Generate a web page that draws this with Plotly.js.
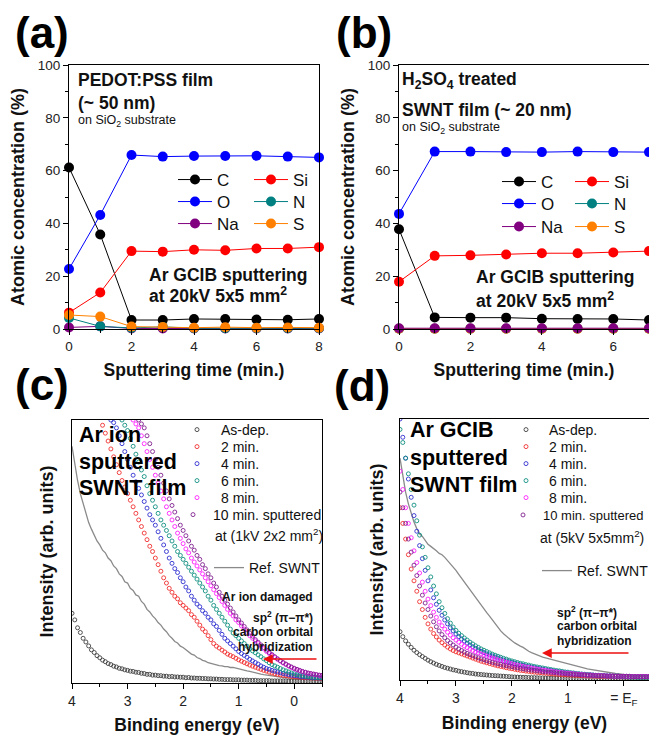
<!DOCTYPE html>
<html><head><meta charset="utf-8">
<script src="https://cdn.plot.ly/plotly-3.0.1.min.js"></script>
<style>html,body{margin:0;padding:0;background:#fff;} #chart{width:649px;height:738px;}</style>
</head><body><div id="chart"></div>
<script>
// ---------- DATA ----------
// (a) PEDOT:PSS film, atomic concentration (%) vs sputtering time (min)
const timeA = [0,1,2,3,4,5,6,7,8];
const aC  = [61.2,35.8,3.4,3.4,3.8,3.8,3.6,3.5,3.8];
const aO  = [22.7,43.2,65.9,65.3,65.5,65.5,65.6,65.3,65.0];
const aSi = [6.2,13.8,29.5,29.3,30.0,29.8,30.5,30.5,31.0];
const aN  = [4.2,1.0,0.4,0.8,0.3,0.3,0.3,0.3,0.3];
const aNa = [0.6,1.0,0.2,0.2,0.2,0.2,0.2,0.2,0.2];
const aS  = [5.3,4.7,0.9,0.8,0.5,0.7,0.5,0.6,0.5];
// (b) H2SO4 treated SWNT film
const timeB = [0,1,2,3,4,5,6,7];
const bC  = [37.8,4.4,4.3,4.3,3.9,3.8,3.8,3.4];
const bO  = [43.6,67.2,67.2,67.0,67.0,67.2,67.0,67.0];
const bSi = [17.9,27.7,27.9,28.2,28.7,28.7,29.0,29.5];
const bN  = [0.1,0.1,0.1,0.1,0.1,0.1,0.1,0.1];
const bNa = [0.3,0.3,0.3,0.3,0.3,0.3,0.3,0.3];
const bS  = [0.1,0.1,0.1,0.1,0.1,0.1,0.1,0.1];
const elemNames = ['C','Si','O','N','Na','S'];

// (c),(d) valence band spectra, binding energy grid (eV)
const energy = [4,3.95,3.9,3.85,3.8,3.75,3.7,3.65,3.6,3.55,
 3.5,3.45,3.4,3.35,3.3,3.25,3.2,3.15,3.1,3.05,
 3,2.95,2.9,2.85,2.8,2.75,2.7,2.65,2.6,2.55,
 2.5,2.45,2.4,2.35,2.3,2.25,2.2,2.15,2.1,2.05,
 2,1.95,1.9,1.85,1.8,1.75,1.7,1.65,1.6,1.55,
 1.5,1.45,1.4,1.35,1.3,1.25,1.2,1.15,1.1,1.05,
 1,0.95,0.9,0.85,0.8,0.75,0.7,0.65,0.6,0.55,
 0.5,0.45,0.4,0.35,0.3,0.25,0.2,0.15,0.1,0.05,
 0,-0.05,-0.1,-0.15,-0.2,-0.25,-0.3,-0.35,-0.4,-0.45,
 -0.5];
const N10 = [null,null,null,null,null,null,null,null,null,null];
// (c) Ar ion sputtered
const cAsDep = [26.5,24,21,19.2,17,15.6,14.1,12.6,11.6,10.4,
 9.6,8.7,8.1,7.4,7.0,6.4,6.1,5.6,5.4,5.0,
 4.8,4.5,4.4,4.1,4.0,3.7,3.6,3.3,3.3,3.0,
 3.0,2.8,2.8,2.6,2.6,2.4,2.5,2.3,2.3,2.2,
 2.2,2.0,2.1,1.9,1.9,1.8,1.8,1.7,1.7,1.6,
 1.6,1.5,1.5,1.4,1.4,1.3,1.3,1.3,1.2,1.2,
 1.2,1.1,1.1,1.1,1.0,1.0,1.0,0.9,0.9,0.9,
 0.9,0.9,0.8,0.8,0.8,0.8,0.8,0.8,0.7,0.7,
 0.7,0.7,0.7,0.7,0.7,0.7,0.7,0.7,0.7,0.7,
 0.7];
const c2min = [...N10,
 101,98,95,92,89,86,83,80,77,74.5,
 72,69.5,67,64.5,62,59.5,57,54.5,52,50,
 47.5,45,42.5,40,38,36,34.5,33,32,30.5,
 29.5,28.5,27.5,26,25,23.5,22,20.5,19.5,18,
 16.5,15,14,13.3,12.5,11.8,11,10.5,10,9.4,
 8.8,8.3,7.8,7.3,6.8,6.4,6.0,5.6,5.2,4.8,
 4.5,4.1,3.8,3.5,3.3,3.1,2.9,2.8,2.6,2.5,
 2.4,2.3,2.2,2.1,2.0,2.0,1.9,1.9,1.8,1.8,
 1.7];
const c4min = [...N10,
 null,null,null,null,100,99,97,94,91,88,
 85,82,79,76.5,74,71.5,69,66.5,64,62,
 60,57.5,55,52.5,50,47.5,45.5,43.5,42,40,
 38.5,36.5,35,33,31.5,30,29,27.5,26.5,25,
 24,22.5,21.5,20,18.5,17,16,15,14,13,
 12,11.2,10.5,9.8,9.0,8.4,7.8,7.2,6.5,6.0,
 5.5,5.2,4.8,4.5,4.2,3.9,3.6,3.4,3.2,3.0,
 2.8,2.7,2.5,2.4,2.3,2.2,2.1,2.0,2.0,1.9,
 1.9];
const c6min = [...N10,
 null,null,null,null,null,null,null,null,100,98,
 96,93,90,87,84,81,78.5,75,72,69.5,
 67,64.5,62,60,58,56,54,52,50,48.5,
 47,45.5,44,42.5,41,39.5,38,36.5,35,33,
 31.5,29.5,28,26.5,25,23.5,22,20.5,19,18,
 17,16,15,14,13,12.2,11.5,10.7,10,9.2,
 8.5,7.7,7,6.5,6,5.5,5,4.6,4.2,3.8,
 3.5,3.2,3.0,2.8,2.6,2.4,2.3,2.2,2.1,2.0,
 2.0];
const c8min = [...N10,...N10,
 null,null,100,98.5,97,94,91,88,85,82,
 79,76,73,70,67,64.5,62,59.5,57,55,
 53,51,49.5,47.5,46,44.5,43,41.5,40,38.5,
 37,35.5,34,32.5,31,29.5,28,26.5,25.5,24,
 23,21.7,20.5,19.2,18,17,16,15,14,13,
 12,11.2,10.5,9.7,9,8.3,7.6,7,6.4,5.9,
 5.4,5.0,4.6,4.3,4.0,3.7,3.5,3.3,3.1,2.9,
 2.8];
const c10min = [...N10,...N10,
 null,null,null,null,100,98.5,97,94,91,88,
 85,82,79,76,73,70,67.5,65,62.5,60,
 58,56,54,52,50.5,48.5,47,45,43.5,41.5,
 40,38,36.5,34.5,33,31.5,30,28.5,27,25.5,
 24,22.8,21.5,20.2,19,17.8,16.5,15.5,14.5,13.5,
 12.5,11.6,10.8,10,9.2,8.5,7.8,7.2,6.6,6.1,
 5.6,5.2,4.8,4.4,4.1,3.8,3.6,3.4,3.2,3.0,
 2.9];
const cRef = [90,83,77,72,68,64,61,58.5,56,54,
 52.5,50.5,49.5,47.5,46.5,44.5,43.5,41.5,40.5,38.5,
 38,36,35.2,33.5,33,31,30,28,27,25.5,
 24.5,23,22,20.5,19.5,18,17,15.8,15.2,14,
 13.5,12.6,12,11,10.6,9.7,9.3,8.6,8.3,7.7,
 7.5,7.1,7,6.6,6.5,6.2,6.2,5.9,5.9,5.6,
 5.4,5.1,4.9,4.6,4.4,4.1,3.9,3.6,3.4,3.2,
 3.0,2.8,2.6,2.5,2.3,2.2,2.1,2.0,1.9,1.8,
 1.7,1.6,1.5,1.5,1.4,1.4,1.3,1.3,1.3,1.2,
 1.2];
// (d) Ar GCIB sputtered
const dAsDep = [18.5,16.6,15,13.7,12.5,11.4,10.5,9.7,9,8.3,
 7.6,7.0,6.5,6.0,5.6,5.2,4.8,4.5,4.2,3.9,
 3.7,3.4,3.2,3.0,2.8,2.6,2.5,2.3,2.2,2.1,
 2.0,1.9,1.8,1.7,1.65,1.6,1.5,1.45,1.35,1.3,
 1.2,1.15,1.1,1.05,1.0,1.0,0.95,0.9,0.9,0.85,
 0.8,0.8,0.75,0.75,0.7,0.7,0.7,0.65,0.65,0.6,
 0.6,0.6,0.6,0.55,0.55,0.55,0.55,0.5,0.5,0.5,
 0.5,0.5,0.5,0.5,0.5,0.5,0.5,0.5,0.5,0.5,
 0.5,0.5,0.5,0.5,0.5,0.5,0.5,0.5,0.5,0.5,
 0.5];
const d2min = [66,60,54,48,42.5,38,34,30,27,24,
 21.5,19.5,17.8,16.5,15.3,14.3,13.4,12.6,11.9,11.3,
 10.8,10.4,10.0,9.6,9.2,8.8,8.4,8.0,7.6,7.2,
 6.9,6.6,6.3,6.0,5.7,5.4,5.2,5.0,4.7,4.5,
 4.3,4.1,3.9,3.7,3.6,3.4,3.3,3.1,3.0,2.9,
 2.8,2.7,2.6,2.5,2.4,2.3,2.2,2.1,2.0,2.0,
 1.9,1.85,1.8,1.75,1.7,1.65,1.6,1.55,1.5,1.5,
 1.45,1.4,1.4,1.35,1.3,1.3,1.3,1.25,1.25,1.2,
 1.2,1.2,1.2,1.2,1.2,1.2,1.2,1.2,1.2,1.2,
 1.1];
const d4min = [100,93,85,77,70,63,57,51.5,46.5,42,
 38,34.5,31.5,29,26.7,24.8,23,21.5,20,18.8,
 17.6,16.6,15.7,14.9,14.1,13.4,12.7,12.1,11.5,11.0,
 10.5,10.0,9.6,9.2,8.8,8.4,8.0,7.6,7.3,7.0,
 6.7,6.4,6.1,5.8,5.6,5.3,5.1,4.9,4.7,4.5,
 4.3,4.1,3.9,3.7,3.6,3.4,3.3,3.1,3.0,2.8,
 2.7,2.6,2.5,2.4,2.3,2.2,2.1,2.0,2.0,1.9,
 1.8,1.8,1.7,1.7,1.6,1.6,1.5,1.5,1.5,1.4,
 1.4,1.4,1.4,1.3,1.3,1.3,1.3,1.3,1.3,1.3,
 1.3];
const d6min = [96,91,85,79,73,67,61,55.5,51,47,
 43,39.5,36,33,30,27.7,25.5,23.5,21.8,20.3,
 19,17.9,17,16.1,15.3,14.5,13.8,13.1,12.5,11.9,
 11.4,10.9,10.4,9.9,9.5,9.1,8.7,8.3,8.0,7.6,
 7.3,7.0,6.7,6.4,6.2,5.9,5.7,5.4,5.2,5.0,
 4.8,4.6,4.4,4.2,4.0,3.8,3.6,3.5,3.3,3.1,
 3.0,2.8,2.7,2.5,2.4,2.3,2.2,2.1,2.0,1.9,
 1.8,1.7,1.6,1.6,1.5,1.5,1.4,1.4,1.3,1.3,
 1.2,1.2,1.1,1.1,1.1,1.0,1.0,1.0,1.0,1.0,
 1.0];
const d8min = [80,73,66,60,54.5,49.5,45,41,37.5,34,
 31,28.5,26,24,22.2,20.8,19.5,18.3,17.2,16.2,
 15.3,14.5,13.7,13,12.4,11.8,11.3,10.8,10.4,10.0,
 9.6,9.2,8.8,8.4,8.1,7.7,7.4,7.1,6.8,6.5,
 6.2,5.9,5.7,5.4,5.2,5.0,4.8,4.6,4.4,4.2,
 4.0,3.8,3.7,3.5,3.4,3.2,3.1,2.9,2.8,2.7,
 2.6,2.5,2.4,2.3,2.2,2.1,2.0,1.9,1.9,1.8,
 1.7,1.7,1.6,1.6,1.5,1.5,1.5,1.4,1.4,1.4,
 1.4,1.4,1.3,1.3,1.3,1.3,1.3,1.3,1.3,1.3,
 1.3];
const d10min = [72,66,60,54,49,44,40,36,32.5,29.5,
 27,24.5,22.3,20.4,18.8,17.4,16.2,15.1,14.2,13.4,
 12.6,11.9,11.3,10.7,10.2,9.7,9.3,8.9,8.5,8.1,
 7.8,7.4,7.1,6.8,6.5,6.2,6.0,5.7,5.5,5.3,
 5.1,4.9,4.7,4.5,4.3,4.1,4.0,3.8,3.7,3.5,
 3.4,3.2,3.1,3.0,2.9,2.8,2.7,2.6,2.5,2.4,
 2.3,2.2,2.1,2.1,2.0,1.9,1.9,1.8,1.8,1.7,
 1.7,1.6,1.6,1.6,1.5,1.5,1.5,1.4,1.4,1.4,
 1.4,1.4,1.4,1.3,1.3,1.3,1.3,1.3,1.3,1.3,
 1.3];
const dRef = [85,78,72,67.5,64,60.5,58,56,55,53.5,
 52,51.2,50.5,49.5,48.5,48,47,45.8,44.5,43.3,
 42,40.5,39,37.5,36,34.5,33,31.5,30,28.5,
 27,25.8,24.5,23,21.5,20,18.8,17.7,16.7,15.8,
 15,14.2,13.5,13,12.5,11.7,11,10.5,10,9.6,
 9.2,8.8,8.5,8.2,7.9,7.6,7.3,7.0,6.7,6.5,
 6.2,5.9,5.6,5.4,5.1,4.8,4.6,4.3,4.1,3.9,
 3.7,3.5,3.3,3.1,3.0,2.8,2.7,2.5,2.4,2.2,
 2.1,2.0,1.9,1.8,1.7,1.7,1.6,1.6,1.5,1.5,
 1.5];
const specNames = ['As-dep.','2 min.','4 min.','6 min.','8 min.','10 min. sputtered'];
const refName = 'Ref. SWNT';
const xTicksAB = [0,2,4,6,8];
const yTicksAB = [0,20,40,60,80,100];
const eTicks = [4,3,2,1,0];
const eTickTextD = ['4','3','2','1','= E<sub>F</sub>'];

// ---------- LAYOUT HELPERS ----------
const W = 649, H = 738;
const FONT = 'Liberation Sans, Arial, Helvetica, sans-serif';
const px = v => v / W;
const py = v => 1 - v / H;
const elemColors = {C:'#000000', Si:'#ff0000', O:'#0000ff', N:'#008080', Na:'#800080', S:'#ff8000'};
const specColors = ['#404040','#f03030','#3030d0','#109080','#ff20ff','#802090'];

const legends = {};
let legendCount = 0;
function addLegend(symX, symY, size, textOff) {
  legendCount++;
  const id = legendCount === 1 ? 'legend' : 'legend' + legendCount;
  legends[id] = {
    x: px(symX - 20), y: py(symY), xanchor: 'left', yanchor: 'middle',
    bgcolor: 'rgba(0,0,0,0)', borderwidth: 0, orientation: 'v',
    itemwidth: Math.max(30, 30 + textOff - 20),
    font: {family: FONT, size: size, color: '#111'}
  };
  return id;
}

const traces = [];
function elemTrace(name, x, y, xa, ya, lx, ly, rank) {
  traces.push({
    type: 'scatter', mode: 'lines+markers', name: name, x: x, y: y,
    xaxis: xa, yaxis: ya, cliponaxis: false, legendrank: rank,
    line: {color: elemColors[name], width: 1},
    marker: {color: elemColors[name], size: 10, line: {width: 0}},
    legend: addLegend(lx, ly, 17, 24), showlegend: true
  });
}
// legend positions: two columns, three rows
const colA = [193, 269], rowA = [180, 202, 224];
const colB = [517, 590], rowB = [182, 204, 227];
const aData = {C: aC, Si: aSi, O: aO, N: aN, Na: aNa, S: aS};
const bData = {C: bC, Si: bSi, O: bO, N: bN, Na: bNa, S: bS};
const drawOrderA = ['C','O','Si','Na','N','S'];
const drawOrderB = ['C','O','Si','N','S','Na'];
drawOrderA.forEach(n => {
  const k = elemNames.indexOf(n);
  elemTrace(n, timeA, aData[n], 'x', 'y', colA[k % 2], rowA[Math.floor(k / 2)], k + 1);
});
drawOrderB.forEach(n => {
  const k = elemNames.indexOf(n);
  elemTrace(n, timeB, bData[n], 'x2', 'y2', colB[k % 2], rowB[Math.floor(k / 2)], k + 1);
});

function specPanel(xa, ya, series, ref, symX, rows, textOff, refSym, refY, lastFont) {
  traces.push({
    type: 'scatter', mode: 'lines', name: refName, x: energy, y: ref,
    xaxis: xa, yaxis: ya, line: {color: '#8a8a8a', width: 1.3},
    legend: addLegend(refSym, refY, 14, 20), showlegend: true
  });
  series.forEach((s, i) => {
    traces.push({
      type: 'scatter', mode: 'markers', name: specNames[i], x: energy, y: s,
      xaxis: xa, yaxis: ya,
      marker: {symbol: 'circle-open', size: 4, color: specColors[i], line: {width: 0.9, color: specColors[i]}},
      legend: addLegend(symX, rows[i], i === 5 ? lastFont : 14, i === 5 ? textOff - 8 : textOff), showlegend: true
    });
  });
}
specPanel('x3', 'y3', [cAsDep, c2min, c4min, c6min, c8min, c10min], cRef,
  193, [430, 447, 464, 481, 498, 515], 28, 229, 568, 14);
specPanel('x4', 'y4', [dAsDep, d2min, d4min, d6min, d8min, d10min], dRef,
  523, [430, 447, 464, 481, 498, 515], 26, 557, 571, 13);

// ---------- AXES ----------
const baseAxis = {
  showline: true, linecolor: '#000', linewidth: 1, mirror: true,
  ticks: 'outside', ticklen: 5, tickwidth: 1, tickcolor: '#000',
  showgrid: false, zeroline: false,
  tickfont: {family: FONT, size: 13.5, color: '#222'}
};
const titleFont = {family: FONT, size: 17.5, color: '#111'};
const minorAB = {ticks: 'outside', ticklen: 3, tickcolor: '#000', showgrid: false};
const layout = {
  width: W, height: H, margin: {l: 0, r: 0, t: 0, b: 0, autoexpand: false},
  paper_bgcolor: '#fff', plot_bgcolor: '#fff',
  font: {family: FONT, color: '#111'},
  xaxis: Object.assign({}, baseAxis, {
    domain: [px(69), px(319)], range: [0, 8], anchor: 'y', tickvals: xTicksAB,
    minor: Object.assign({dtick: 1, tick0: 0}, minorAB),
    title: {text: '<b>Sputtering time (min.)</b>', font: titleFont, standoff: 10}
  }),
  yaxis: Object.assign({}, baseAxis, {
    domain: [py(329), py(65)], range: [0, 100], anchor: 'x', tickvals: yTicksAB,
    minor: Object.assign({dtick: 10, tick0: 0}, minorAB),
    title: {text: '<b>Atomic concentration (%)</b>', font: Object.assign({}, titleFont, {size: 18}), standoff: 8}
  }),
  xaxis2: Object.assign({}, baseAxis, {
    domain: [px(399), 1], range: [0, 7], anchor: 'y2', tickvals: xTicksAB,
    minor: Object.assign({dtick: 1, tick0: 0}, minorAB),
    title: {text: '<b>Sputtering time (min.)</b>', font: titleFont, standoff: 10}
  }),
  yaxis2: Object.assign({}, baseAxis, {
    domain: [py(329), py(65)], range: [0, 100], anchor: 'x2', tickvals: yTicksAB,
    minor: Object.assign({dtick: 10, tick0: 0}, minorAB),
    title: {text: '<b>Atomic concentration (%)</b>', font: Object.assign({}, titleFont, {size: 18}), standoff: 8}
  }),
  xaxis3: Object.assign({}, baseAxis, {
    domain: [px(72), px(322)], range: [4, -0.5], anchor: 'y3', tickvals: eTicks,
    tickfont: {family: FONT, size: 14, color: '#222'},
    minor: Object.assign({dtick: 0.5, tick0: 0}, minorAB),
    title: {text: '<b>Binding energy (eV)</b>', font: titleFont, standoff: 10}
  }),
  yaxis3: Object.assign({}, baseAxis, {
    domain: [py(683), py(420)], range: [0, 100], anchor: 'x3', ticks: '', showticklabels: false,
    title: {text: '<b>Intensity (arb. units)</b>', font: Object.assign({}, titleFont, {size: 18}), standoff: 12}
  }),
  xaxis4: Object.assign({}, baseAxis, {
    domain: [px(400), 1], range: [4, -0.45], anchor: 'y4', tickvals: eTicks, ticktext: eTickTextD,
    tickfont: {family: FONT, size: 14, color: '#222'},
    minor: Object.assign({dtick: 0.5, tick0: 0}, minorAB),
    title: {text: '<b>Binding energy (eV)</b>', font: titleFont, standoff: 10}
  }),
  yaxis4: Object.assign({}, baseAxis, {
    domain: [py(680), py(419)], range: [0, 100], anchor: 'x4', ticks: '', showticklabels: false,
    title: {text: '<b>Intensity (arb. units)</b>', font: Object.assign({}, titleFont, {size: 18}), standoff: 10}
  }),
  showlegend: true,
  annotations: []
};
Object.assign(layout, legends);

function note(text, x, y, size, anchor, bold, color) {
  layout.annotations.push({
    text: bold ? '<b>' + text + '</b>' : text,
    x: px(x), y: py(y), xref: 'paper', yref: 'paper',
    xanchor: anchor || 'left', yanchor: 'middle', showarrow: false,
    font: {family: FONT, size: size, color: color || '#111'}
  });
}
function arrow(xHead, y, len) {
  layout.annotations.push({
    text: '', x: px(xHead), y: py(y), xref: 'paper', yref: 'paper',
    ax: len, ay: 0, axref: 'pixel', ayref: 'pixel', showarrow: true,
    arrowhead: 2, arrowsize: 1.3, arrowwidth: 1.5, arrowcolor: '#ee1111', standoff: 0
  });
}
// panel labels
note('(a)', 42, 33, 44, 'center', true, '#000');
note('(b)', 364, 33, 44, 'center', true, '#000');
note('(c)', 42, 384, 44, 'center', true, '#000');
note('(d)', 362, 385, 44, 'center', true, '#000');
// (a)
note('PEDOT:PSS film', 76, 80, 17.5, 'left', true);
note('(~ 50 nm)', 76, 103, 17.5, 'left', true);
note('on SiO<sub>2</sub> substrate', 76, 121, 12.5, 'left', false);
note('Ar GCIB sputtering', 147, 275, 17.5, 'left', true);
note('at 20kV 5x5 mm<sup>2</sup>', 147, 295, 17.5, 'left', true);
// (b)
note('H<sub>2</sub>SO<sub>4</sub> treated', 400, 80, 17.5, 'left', true);
note('SWNT film (~ 20 nm)', 400, 110, 17.5, 'left', true);
note('on SiO<sub>2</sub> substrate', 400, 128, 12.5, 'left', false);
note('Ar GCIB sputtering', 474, 277, 17.5, 'left', true);
note('at 20kV 5x5 mm<sup>2</sup>', 474, 300, 17.5, 'left', true);
// (c)
note('Ar ion', 77, 435, 21.5, 'left', true, '#000');
note('sputtered', 77, 462, 21.5, 'left', true, '#000');
note('SWNT film', 77, 488, 21.5, 'left', true, '#000');
note('at (1kV 2x2 mm<sup>2</sup>)', 213, 535, 14, 'left', false);
note('Ar ion damaged', 315, 597, 12, 'right', true);
note('sp<sup>2</sup> (π−π*)', 315, 617, 12, 'right', true);
note('carbon orbital', 315, 632, 12, 'right', true);
note('hybridization', 315, 647, 12, 'right', true);
arrow(263, 659, 55);
// (d)
note('Ar GCIB', 408, 430, 21.5, 'left', true, '#000');
note('sputtered', 408, 458, 21.5, 'left', true, '#000');
note('SWNT film', 408, 485, 21.5, 'left', true, '#000');
note('at (5kV 5x5mm<sup>2</sup>)', 538, 537, 14, 'left', false);
note('sp<sup>2</sup> (π−π*)', 555, 612, 12, 'left', true);
note('carbon orbital', 555, 626, 12, 'left', true);
note('hybridization', 555, 641, 12, 'left', true);
arrow(542, 653, 88);

Plotly.newPlot('chart', traces, layout, {displayModeBar: false, staticPlot: true});
</script>
</body></html>
